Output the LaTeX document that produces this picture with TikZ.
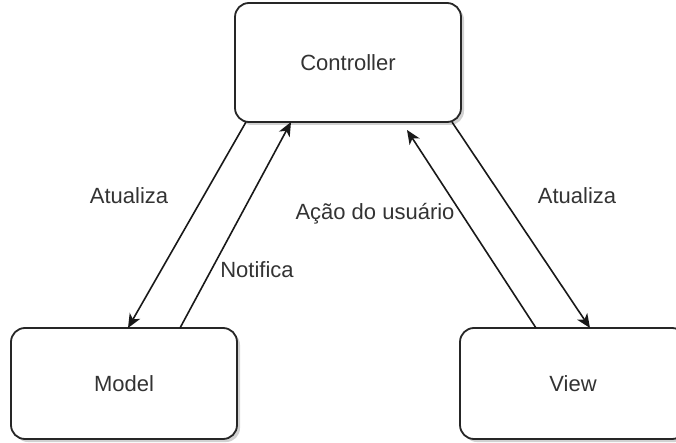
\documentclass[tikz,border=0pt]{standalone}
\usepackage{fontspec}
\setmainfont{Liberation Sans}
\usetikzlibrary{arrows.meta,shadows}
\begin{document}
\begin{tikzpicture}[x=1pt,y=-1pt,
  box/.style={draw=black!85, line width=1.8pt, rounded corners=14pt, fill=white,
    minimum width=226pt, outer sep=0pt, text=black!80,
    font=\fontsize{22}{26}\selectfont,
    drop shadow={shadow xshift=3pt, shadow yshift=-3pt, fill=black!30, opacity=0.6}},
  arr/.style={draw=black!90, line width=1.6pt, -{Stealth[length=14pt,width=12pt,inset=4pt]}},
  lbl/.style={text=black!80, font=\fontsize{22}{26}\selectfont, inner sep=0pt}]
\useasboundingbox (0,0) rectangle (676,443);
\clip (0,0) rectangle (676,443);
\node[box, minimum height=119pt] (ctrl) at (348,62.5) {Controller};
\node[box, minimum height=111pt] (model) at (124,383.5) {Model};
\node[box, minimum height=111pt] (view) at (573,383.5) {View};
\draw[arr] ([xshift=-102pt]ctrl.south) -- ([xshift=4pt]model.north);
\draw[arr] ([xshift=56pt]model.north) -- ([xshift=-57pt]ctrl.south);
\draw[arr] ([xshift=-37pt]view.north) -- ([xshift=59pt,yshift=-8pt]ctrl.south);
\draw[arr] ([xshift=104pt]ctrl.south) -- ([xshift=17pt]view.north);
\node[lbl] (l1) at (129,196) {Atualiza};
\node[lbl] (l2) at (257,270) {Notifica};
\node[lbl] (l3) at (375,214) {Ação do usuário};
\node[lbl] (l4) at (577,196) {Atualiza};
\end{tikzpicture}
\end{document}
